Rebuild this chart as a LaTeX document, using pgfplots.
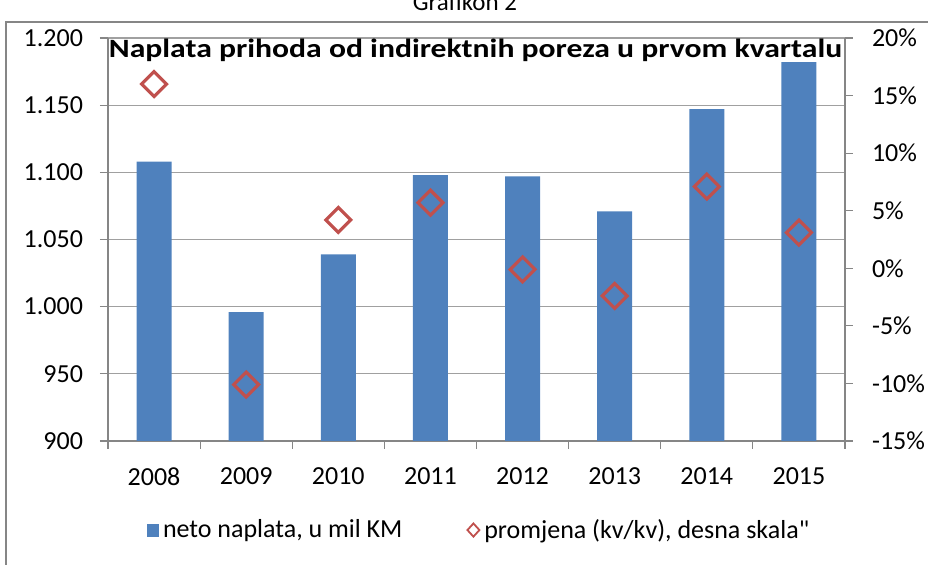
\documentclass[border=0pt]{standalone}
\usepackage{pgfplots}
\pgfplotsset{compat=1.18}
\usepackage{fontspec}
\setmainfont{Carlito}
\definecolor{barblue}{HTML}{4F81BD}
\definecolor{dred}{HTML}{C0504D}
\definecolor{axgray}{HTML}{868686}
\definecolor{gridgray}{HTML}{A0A0A0}
\begin{document}
\begin{tikzpicture}
\useasboundingbox (0pt,0pt) rectangle (464pt,282.5pt);
\draw[axgray, line width=0.9pt] (3pt,-20pt) rectangle (490pt,271.5pt);
\node[anchor=base, font=\fontsize{12.5}{15}\selectfont] at (232.5pt,277pt) {Grafikon 2};
\begin{axis}[
  at={(54pt,62pt)}, anchor=south west, scale only axis,
  width=368.5pt, height=201.5pt,
  xmin=-0.5, xmax=7.5, ymin=900, ymax=1200,
  axis x line*=bottom, axis y line*=left,
  axis line style={axgray, line width=0.6pt, -},
  tick style={axgray, line width=0.6pt},
  major tick length=4pt, tick align=outside,
  xtick={-0.5,0.5,...,7.5}, x tick label as interval,
  xticklabels={2008,2009,2010,2011,2012,2013,2014,2015},
  ytick={900,950,...,1200},
  yticklabels={900,950,1.000,1.050,1.100,1.150,1.200},
  ymajorgrids, grid style={gridgray, line width=0.6pt},
  tick label style={font=\fontsize{13}{15}\selectfont, black},
  xticklabel style={yshift=-6pt},
  yticklabel style={xshift=-5pt},
]
\addplot[ybar, bar width=17.5pt, fill=barblue, draw=none] coordinates {
(0,1108) (1,996) (2,1039) (3,1098) (4,1097) (5,1071) (6,1147) (7,1182)};
\end{axis}
\begin{axis}[
  at={(54pt,62pt)}, anchor=south west, scale only axis,
  width=368.5pt, height=201.5pt,
  xmin=-0.5, xmax=7.5, ymin=-15, ymax=20,
  axis x line=none, axis y line*=right,
  axis line style={axgray, line width=0.6pt, -},
  tick style={axgray, line width=0.6pt},
  major tick length=4pt, tick align=outside,
  ytick={-15,-10,...,20},
  yticklabels={-15\%,-10\%,-5\%,0\%,5\%,10\%,15\%,20\%},
  tick label style={font=\fontsize{13}{15}\selectfont, black},
  yticklabel style={xshift=6pt},
  legend columns=2,
  legend style={at={(0.505,-0.221)}, anchor=center, draw=none, fill=none,
    font=\fontsize{13}{15}\selectfont,
    /tikz/every even column/.append style={column sep=30pt}},
  legend cell align=left,
]
\addlegendimage{legend image code/.code={\fill[barblue] (0pt,-3pt) rectangle (5.5pt,3pt);}}
\addlegendentry{neto naplata, u mil KM}
\addplot[only marks, mark=square, mark size=4.4pt,
  mark options={rotate=45, draw=dred, fill=white, line width=1.6pt},
  legend image code/.code={\draw[dred, fill=white, line width=0.9pt] (0pt,0pt)--(3pt,3.3pt)--(6pt,0pt)--(3pt,-3.3pt)--cycle;}]
  coordinates {(0,16.0) (1,-10.1) (2,4.2) (3,5.7) (4,-0.1) (5,-2.4) (6,7.1) (7,3.1)};
\addlegendentry{promjena (kv/kv), desna skala{\addfontfeatures{Ligatures=TeXOff}"}}
\end{axis}
\node[anchor=base, font=\bfseries\fontsize{13.2}{15}\selectfont] at (237.75pt,253.5pt) {\scalebox{1.2}[1]{Naplata prihoda od indirektnih poreza u prvom kvartalu}};
\end{tikzpicture}
\end{document}
